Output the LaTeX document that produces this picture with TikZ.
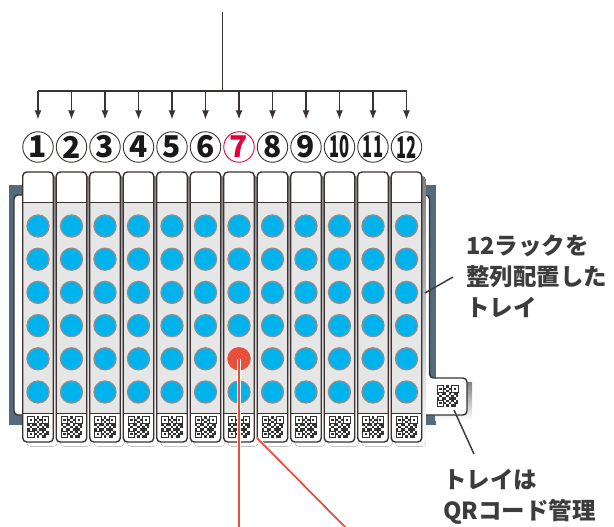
\documentclass[tikz,border=0pt]{standalone}
\usepackage{fontspec}
\usepackage{graphicx}
\newfontfamily\jpfont{Noto Sans CJK JP}
\usetikzlibrary{arrows.meta}

\definecolor{inkline}{HTML}{3B3231}
\definecolor{slate}{HTML}{536B7B}
\definecolor{rackgray}{HTML}{E6E6E6}
\definecolor{wellblue}{HTML}{00B3EC}
\definecolor{wellrim}{HTML}{8E8E8E}
\definecolor{shade}{HTML}{A3A3A3}
\definecolor{pick}{HTML}{E9503C}
\definecolor{numred}{HTML}{E5003A}
\definecolor{labeltext}{HTML}{3C3C3C}

\tikzset{
  numcircle/.style={circle, draw=inkline, line width=0.9pt, minimum size=30.5pt,
    inner sep=0pt, text=black!90, font=\jpfont\bfseries\fontsize{30}{30}\selectfont},
  numpick/.style={numcircle, draw=numred, text=numred},
  feed/.style={draw=inkline, line width=1.2pt, -{Latex[length=9pt,width=7pt]}},
  rackline/.style={draw=inkline, line width=1.4pt, rounded corners=4pt},
  well/.style={fill=wellblue, draw=wellrim, line width=1.3pt},
  pickline/.style={draw=white, double=pick, double distance=1.8pt, line width=0.8pt},
  leader/.style={draw=labeltext, line width=1.5pt},
  note/.style={align=left, inner sep=0pt, text=labeltext,
    font=\jpfont\bfseries\fontsize{23.5}{31}\selectfont},
  qrcode/.pic={
    \foreach \c/\r in {0/0,6/0,0/6}{
      \draw[black!80, line width=0.8pt] ({-10.8+\c*2.4+0.4},{-10.8+\r*2.4+0.4}) rectangle +(6.4,6.4);
      \fill[black!80] ({-10.8+(\c+1)*2.4},{-10.8+(\r+1)*2.4}) rectangle +(2.4,2.4);
    }
    \foreach \c/\r in {4/0,3/1,5/1,4/2,0/3,2/3,3/3,5/3,7/3,8/3,1/4,4/4,6/4,8/4,0/5,2/5,3/5,5/5,6/5,7/5,4/6,6/6,8/6,3/7,5/7,7/7,8/7,4/8,6/8,7/8}
    \fill[black!80] ({-10.8+\c*2.4},{-10.8+\r*2.4}) rectangle +(2.4,2.4);
  }
}

\begin{document}
\begin{tikzpicture}[x=1pt, y=-1pt]
  \useasboundingbox (0,0) rectangle (614,527);

  % feed lines to the racks
  \coordinate (feedtop) at (222.25,12);
  \coordinate (feedmid) at (222.25,91);
  \draw[inkline, line width=1.2pt] (feedtop) -- (feedmid);
  \draw[inkline, line width=1.2pt] (38,91) -- (406.5,91);

  \foreach \i in {1,...,12}{
    \pgfmathsetmacro\x{38+(\i-1)*33.5}
    \coordinate (bar\i) at (\x,91);
    \ifnum\i=7
      \node[numpick] (n\i) at (\x,147) {\i};
    \else\ifnum\i<10
      \node[numcircle] (n\i) at (\x,147) {\i};
    \else
      \node[numcircle] (n\i) at (\x,147) {\scalebox{0.55}[1]{\i}};
    \fi\fi
    \draw[feed, shorten >=12pt] (bar\i) -- (n\i.north);
  }

  % tray
  \fill[slate] (9,185) rectangle (436,425);
  \fill[shade] (435,382) rectangle (472,420);
  \draw[rackline, fill=white] (14,195) -- (429.5,195) -- (429.5,378) -- (467,378)
    -- (467,415) -- (14,415) -- cycle;
  \pic at (447.5,396) {qrcode};

  % rack shadows
  \foreach \i in {1,...,12}{
    \pgfmathsetmacro\x{38+(\i-1)*33.5}
    \fill[shade, rounded corners=4pt] (\x-15.25+4,176) rectangle (\x+15.25+4,446.5);
  }

  % racks
  \foreach \i in {1,...,12}{
    \pgfmathsetmacro\x{38+(\i-1)*33.5}
    \fill[white, rounded corners=4pt] (\x-15.25,172) rectangle (\x+15.25,442);
    \fill[rackgray] (\x-15.25,202) rectangle (\x+15.25,413);
    \draw[inkline, line width=0.6pt] (\x-15.25,202) -- (\x+15.25,202);
    \draw[inkline, line width=1pt] (\x-15.25,413) -- (\x+15.25,413);
    \draw[rackline] (\x-15.25,172) rectangle (\x+15.25,442);
    \foreach \j in {0,...,5}
      \draw[well] (\x,226+\j*33.2) circle (11);
    \pic at (\x,427) {qrcode};
  }

  % picked well
  \node[circle, fill=pick, minimum size=23pt, inner sep=0pt] (pickwell) at (239,358.8) {};
  \coordinate (pickdown) at (239,530);
  \coordinate (pickfoot) at (257,438);
  \coordinate (pickend) at (348,530);
  \draw[pickline] (pickwell.center) -- (pickdown);
  \draw[pickline] (pickfoot) -- (pickend);

  % labels
  \node[note, anchor=base west] (traylabel) at (466,316) {12ラックを\\整列配置した\\トレイ};
  \coordinate (trayedge) at (425,293);
  \coordinate (traytip) at (453,277);
  \draw[leader] (trayedge) -- (traytip);

  \node[note, anchor=base west] (qrlabel) at (443,519) {トレイは\\QRコード管理};
  \coordinate (qredge) at (454,410);
  \coordinate (qrtip) at (474,454);
  \draw[leader] (qredge) -- (qrtip);
\end{tikzpicture}
\end{document}
